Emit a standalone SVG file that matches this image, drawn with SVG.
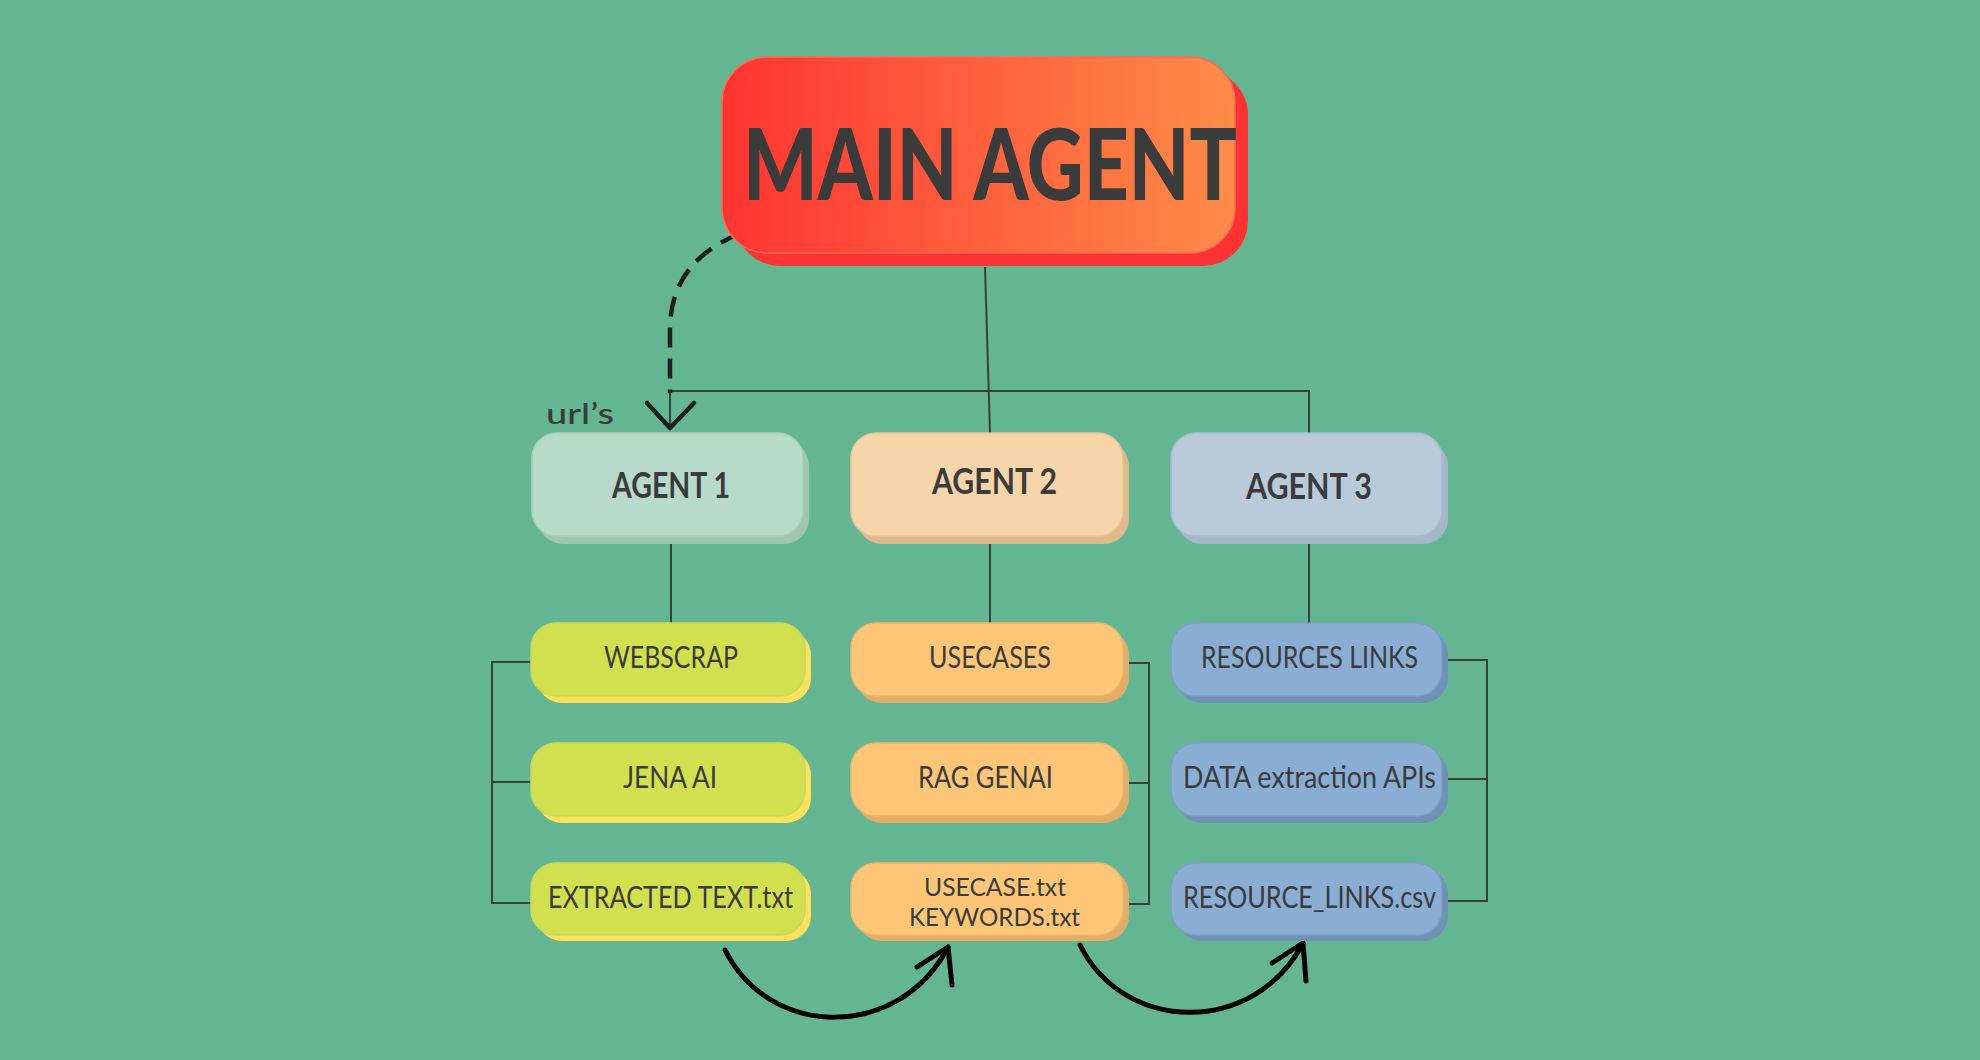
<svg xmlns="http://www.w3.org/2000/svg" width="1980" height="1060" viewBox="0 0 1980 1060">
  <defs>
    <linearGradient id="mainGrad" x1="0" y1="0" x2="1" y2="0">
      <stop offset="0" stop-color="#FF3432"/>
      <stop offset="1" stop-color="#FF8C48"/>
    </linearGradient>
    <style>
      .bg { fill: #64B692; }
      .lbl { font-family: Lato, "Open Sans", "Liberation Sans", sans-serif; fill: #3B3B3B; text-anchor: middle; }
      .big { font-weight: 900; font-size: 100px; }
      .agent { font-weight: 700; font-size: 37px; }
      .item { font-weight: 400; font-size: 30px; }
      .conn { fill: none; stroke: #3D3D3D; stroke-width: 2; }
      .flow { fill: none; stroke: #000000; stroke-width: 5; stroke-linecap: round; stroke-linejoin: round; }
      .dash { fill: none; stroke: #1E1E1E; stroke-width: 4.5; stroke-dasharray: 20 11; }
      .a1f { fill: #B8DACA; stroke: #A8CEBC; stroke-width: 1.5; }
      .a1s { fill: #9FC6B3; }
      .a2f { fill: #F6D5A8; stroke: #E6C496; stroke-width: 1.5; }
      .a2s { fill: #DDB98B; }
      .a3f { fill: #B9CADB; stroke: #A8BBCF; stroke-width: 1.5; }
      .a3s { fill: #A4B7CA; }
      .c1f { fill: #D1E04E; stroke: #C6D85E; stroke-width: 1.5; }
      .c1s { fill: #FFE15B; }
      .c2f { fill: #FFC677; stroke: #EBB56B; stroke-width: 1.5; }
      .c2s { fill: #E2AE67; }
      .c3f { fill: #8AADD3; stroke: #7B9EC5; stroke-width: 1.5; }
      .c3s { fill: #6E91B6; }
    </style>
  </defs>

  <rect class="bg" x="0" y="0" width="1980" height="1060"/>

  <g id="connectors">
    <path class="conn" d="M985,267 L990,433"/>
    <path class="conn" d="M670,391 L1309,391 L1309,433"/>
    <path class="conn" d="M671,536 L671,623"/>
    <path class="conn" d="M990,536 L990,623"/>
    <path class="conn" d="M1309,536 L1309,623"/>
    <path class="conn" d="M531,662 L492,662 L492,903 L531,903 M492,782 L531,782"/>
    <path class="conn" d="M1129,663 L1149,663 L1149,904 L1129,904 M1149,783 L1129,783"/>
    <path class="conn" d="M1448,660 L1487,660 L1487,901 L1448,901 M1487,779 L1448,779"/>
    <path class="dash" d="M739,234 Q670,262 670,330 L670,393"/>
    <path class="conn" d="M670,393 L670,428"/>
    <polyline class="flow" style="stroke:#1E1E1E;stroke-width:4.5" points="647,403 670,428 694,403"/>
    <path class="flow" d="M725,950 C770,1040 900,1040 948,947"/>
    <polyline class="flow" points="917,967 948,947 952,985"/>
    <path class="flow" d="M1080,945 C1125,1035 1255,1035 1303,943"/>
    <polyline class="flow" points="1272,963 1303,943 1306,981"/>
  </g>

  <g id="main-agent">
    <rect x="735" y="70" width="513" height="196" rx="45" fill="#FF3432"/>
    <rect x="722" y="57" width="513" height="196" rx="45" fill="url(#mainGrad)" stroke="#FF6A5A" stroke-width="1.5"/>
    <text class="lbl big" x="990" y="200" textLength="494" lengthAdjust="spacingAndGlyphs">MAIN AGENT</text>
  </g>

  <g id="url-label">
    <text class="lbl" style="font-size:29px;font-weight:500;text-anchor:start" x="546" y="424" textLength="68" lengthAdjust="spacingAndGlyphs">url’s</text>
  </g>

  <g id="agent-1">
    <rect class="a1s" x="538" y="441" width="271" height="103" rx="25"/>
    <rect class="a1f" x="532" y="433" width="271" height="103" rx="25"/>
    <text class="lbl agent" x="671" y="498" textLength="118" lengthAdjust="spacingAndGlyphs">AGENT 1</text>
  </g>
  <g id="agent-2">
    <rect class="a2s" x="857" y="441" width="272" height="103" rx="25"/>
    <rect class="a2f" x="851" y="433" width="272" height="103" rx="25"/>
    <text class="lbl agent" x="994.5" y="494" textLength="125" lengthAdjust="spacingAndGlyphs">AGENT 2</text>
  </g>
  <g id="agent-3">
    <rect class="a3s" x="1177" y="441" width="271" height="103" rx="25"/>
    <rect class="a3f" x="1171" y="433" width="271" height="103" rx="25"/>
    <text class="lbl agent" x="1309" y="499" textLength="126" lengthAdjust="spacingAndGlyphs">AGENT 3</text>
  </g>

  <g id="webscrap">
    <rect class="c1s" x="537" y="630" width="274" height="73" rx="25"/>
    <rect class="c1f" x="531" y="623" width="274" height="73" rx="25"/>
    <text class="lbl item" x="671" y="668" textLength="134" lengthAdjust="spacingAndGlyphs">WEBSCRAP</text>
  </g>
  <g id="jena-ai">
    <rect class="c1s" x="537" y="750" width="274" height="73" rx="25"/>
    <rect class="c1f" x="531" y="743" width="274" height="73" rx="25"/>
    <text class="lbl item" x="670" y="788" textLength="94" lengthAdjust="spacingAndGlyphs">JENA AI</text>
  </g>
  <g id="extracted-text">
    <rect class="c1s" x="537" y="869" width="274" height="72" rx="25"/>
    <rect class="c1f" x="531" y="863" width="274" height="72" rx="25"/>
    <text class="lbl item" x="670.5" y="908" textLength="245" lengthAdjust="spacingAndGlyphs">EXTRACTED TEXT.txt</text>
  </g>

  <g id="usecases">
    <rect class="c2s" x="857" y="630" width="272" height="73" rx="25"/>
    <rect class="c2f" x="851" y="623" width="272" height="73" rx="25"/>
    <text class="lbl item" x="990" y="668" textLength="122" lengthAdjust="spacingAndGlyphs">USECASES</text>
  </g>
  <g id="rag-genai">
    <rect class="c2s" x="857" y="750" width="272" height="73" rx="25"/>
    <rect class="c2f" x="851" y="743" width="272" height="73" rx="25"/>
    <text class="lbl item" x="985.5" y="788" textLength="135" lengthAdjust="spacingAndGlyphs">RAG GENAI</text>
  </g>
  <g id="usecase-keywords">
    <rect class="c2s" x="857" y="869" width="272" height="72" rx="25"/>
    <rect class="c2f" x="851" y="863" width="272" height="72" rx="25"/>
    <text class="lbl item" style="font-size:25px" x="995" y="896" textLength="142" lengthAdjust="spacingAndGlyphs">USECASE.txt</text>
    <text class="lbl item" style="font-size:25px" x="994.5" y="926" textLength="171" lengthAdjust="spacingAndGlyphs">KEYWORDS.txt</text>
  </g>

  <g id="resources-links">
    <rect class="c3s" x="1177" y="630" width="271" height="73" rx="25"/>
    <rect class="c3f" x="1171" y="623" width="271" height="73" rx="25"/>
    <text class="lbl item" x="1309.5" y="668" textLength="217" lengthAdjust="spacingAndGlyphs">RESOURCES LINKS</text>
  </g>
  <g id="data-extraction">
    <rect class="c3s" x="1177" y="750" width="271" height="73" rx="25"/>
    <rect class="c3f" x="1171" y="743" width="271" height="73" rx="25"/>
    <text class="lbl item" x="1309.5" y="788" textLength="253" lengthAdjust="spacingAndGlyphs">DATA extraction APIs</text>
  </g>
  <g id="resource-links-csv">
    <rect class="c3s" x="1177" y="869" width="271" height="72" rx="25"/>
    <rect class="c3f" x="1171" y="863" width="271" height="72" rx="25"/>
    <text class="lbl item" x="1309.5" y="908" textLength="253" lengthAdjust="spacingAndGlyphs">RESOURCE_LINKS.csv</text>
  </g>
</svg>
